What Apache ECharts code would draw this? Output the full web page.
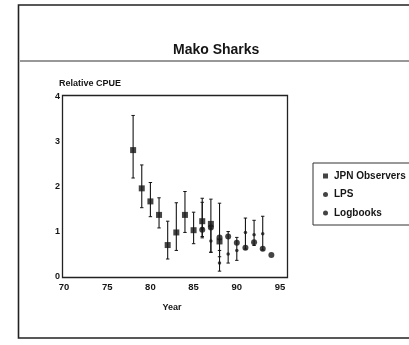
<!DOCTYPE html>
<html><head><meta charset="utf-8">
<script src="https://cdn.jsdelivr.net/npm/echarts@6/dist/echarts.min.js"></script>
<style>html,body{margin:0;padding:0;background:#fff}#c{width:409px;height:345px}</style>
</head><body><div id="c"></div>
<script>
// ---- data ----
const jpnYears = [78,79,80,81,82,83,84,85,86,87,88];
const jpnVal   = [2.82,1.97,1.68,1.38,0.71,0.99,1.38,1.04,1.24,1.18,0.79];
const jpnLow   = [2.20,1.54,1.34,1.09,0.40,0.59,0.99,0.74,0.90,0.55,0.45];
const jpnHigh  = [3.59,2.49,2.10,1.76,1.24,1.65,1.90,1.44,1.75,1.73,1.64];

const lpsYears = [86,87,88,89,90,91,92,93];
const lpsVal   = [1.08,0.80,0.31,0.51,0.59,0.99,0.94,0.96];
const lpsLow   = [0.87,0.55,0.13,0.31,0.37,0.62,0.70,0.60];
const lpsHigh  = [1.66,1.09,0.59,1.01,0.88,1.31,1.26,1.35];

const logYears = [86,87,88,89,90,91,92,93,94];
const logVal   = [1.05,1.10,0.88,0.90,0.76,0.65,0.77,0.63,0.49];

const xTicks = [70,75,80,85,90,95];
const yTicks = [0,1,2,3,4];

// ---- chart ----
const ink = '#151515';
const font = '"Liberation Sans", Arial, sans-serif';
const chart = echarts.init(document.getElementById('c'), null, {renderer:'canvas'});

function pts(xs, ys){ return xs.map((x,i)=>[x, ys[i]]); }
function errData(xs, lo, hi){ return xs.map((x,i)=>[x, lo[i], hi[i]]); }
function errRender(params, api){
  const x = api.value(0);
  const lo = api.coord([x, api.value(1)]);
  const hi = api.coord([x, api.value(2)]);
  const c = 1.7;
  return {type:'group', children:[
    {type:'line', shape:{x1:lo[0],y1:lo[1],x2:hi[0],y2:hi[1]}, style:{stroke:ink,lineWidth:1.1}},
    {type:'line', shape:{x1:lo[0]-c,y1:lo[1],x2:lo[0]+c,y2:lo[1]}, style:{stroke:ink,lineWidth:1}},
    {type:'line', shape:{x1:hi[0]-c,y1:hi[1],x2:hi[0]+c,y2:hi[1]}, style:{stroke:ink,lineWidth:1}}
  ]};
}

chart.setOption({
  backgroundColor:'#fff',
  animation:false,
  textStyle:{fontFamily:font, color:ink},
  grid:{left:64, right:129, top:97, bottom:68, containLabel:false},
  xAxis:{type:'value', min:xTicks[0], max:xTicks[xTicks.length-1], interval:5,
    axisLine:{show:false}, axisTick:{show:false}, splitLine:{show:false},
    axisLabel:{fontSize:9.5, fontWeight:'bold', color:ink, margin:5, fontFamily:font},
    name:'Year', nameLocation:'middle', nameGap:26,
    nameTextStyle:{fontSize:9, fontWeight:'bold', color:ink, fontFamily:font}},
  yAxis:{type:'value', min:yTicks[0], max:yTicks[yTicks.length-1], interval:1,
    axisLine:{show:false}, axisTick:{show:false}, splitLine:{show:false},
    axisLabel:{fontSize:9, fontWeight:'bold', color:ink, margin:4, fontFamily:font},
    name:'Relative CPUE', nameLocation:'end', nameGap:9,
    nameTextStyle:{fontSize:9, fontWeight:'bold', color:ink, fontFamily:font, align:'left', padding:[0,0,0,-5]}},
  legend:{
    orient:'vertical', left:313, top:163, width:140,
    padding:[8,60,7,10], itemGap:8.5, itemWidth:5, itemHeight:5,
    borderColor:'#333', borderWidth:1,
    textStyle:{fontSize:10, fontWeight:'bold', color:ink, fontFamily:font, padding:[0,0,0,1]},
    data:[
      {name:'JPN Observers', icon:'rect'},
      {name:'LPS', icon:'circle'},
      {name:'Logbooks', icon:'circle'}
    ]
  },
  title:{text:'Mako Sharks', left:168, top:38,
    textStyle:{fontSize:14, fontWeight:'bold', color:ink, fontFamily:font}},
  graphic:[
    {type:'polyline', shape:{points:[[409,5],[18.5,5],[18.5,338],[409,338]]}, style:{stroke:'#222', lineWidth:1.6, fill:null}, silent:true},
    {type:'line', shape:{x1:20,y1:61,x2:409,y2:61}, style:{stroke:'#333', lineWidth:1.2}, silent:true},
    {type:'rect', shape:{x:62.5,y:95.5,width:225,height:182}, style:{stroke:'#222', lineWidth:1.3, fill:null}, silent:true}
  ],
  series:[
    {type:'custom', name:'JPN err', renderItem:errRender, data:errData(jpnYears,jpnLow,jpnHigh), z:2, silent:true},
    {type:'custom', name:'LPS err', renderItem:errRender, data:errData(lpsYears,lpsLow,lpsHigh), z:2, silent:true},
    {type:'scatter', name:'JPN Observers', data:pts(jpnYears,jpnVal), symbol:'rect', symbolSize:6,
      itemStyle:{color:ink}, z:3},
    {type:'scatter', name:'LPS', data:pts(lpsYears,lpsVal), symbol:'circle', symbolSize:3.5,
      itemStyle:{color:ink}, z:3},
    {type:'scatter', name:'Logbooks', data:pts(logYears,logVal), symbol:'circle', symbolSize:6,
      itemStyle:{color:ink}, z:3}
  ]
});
</script></body></html>
